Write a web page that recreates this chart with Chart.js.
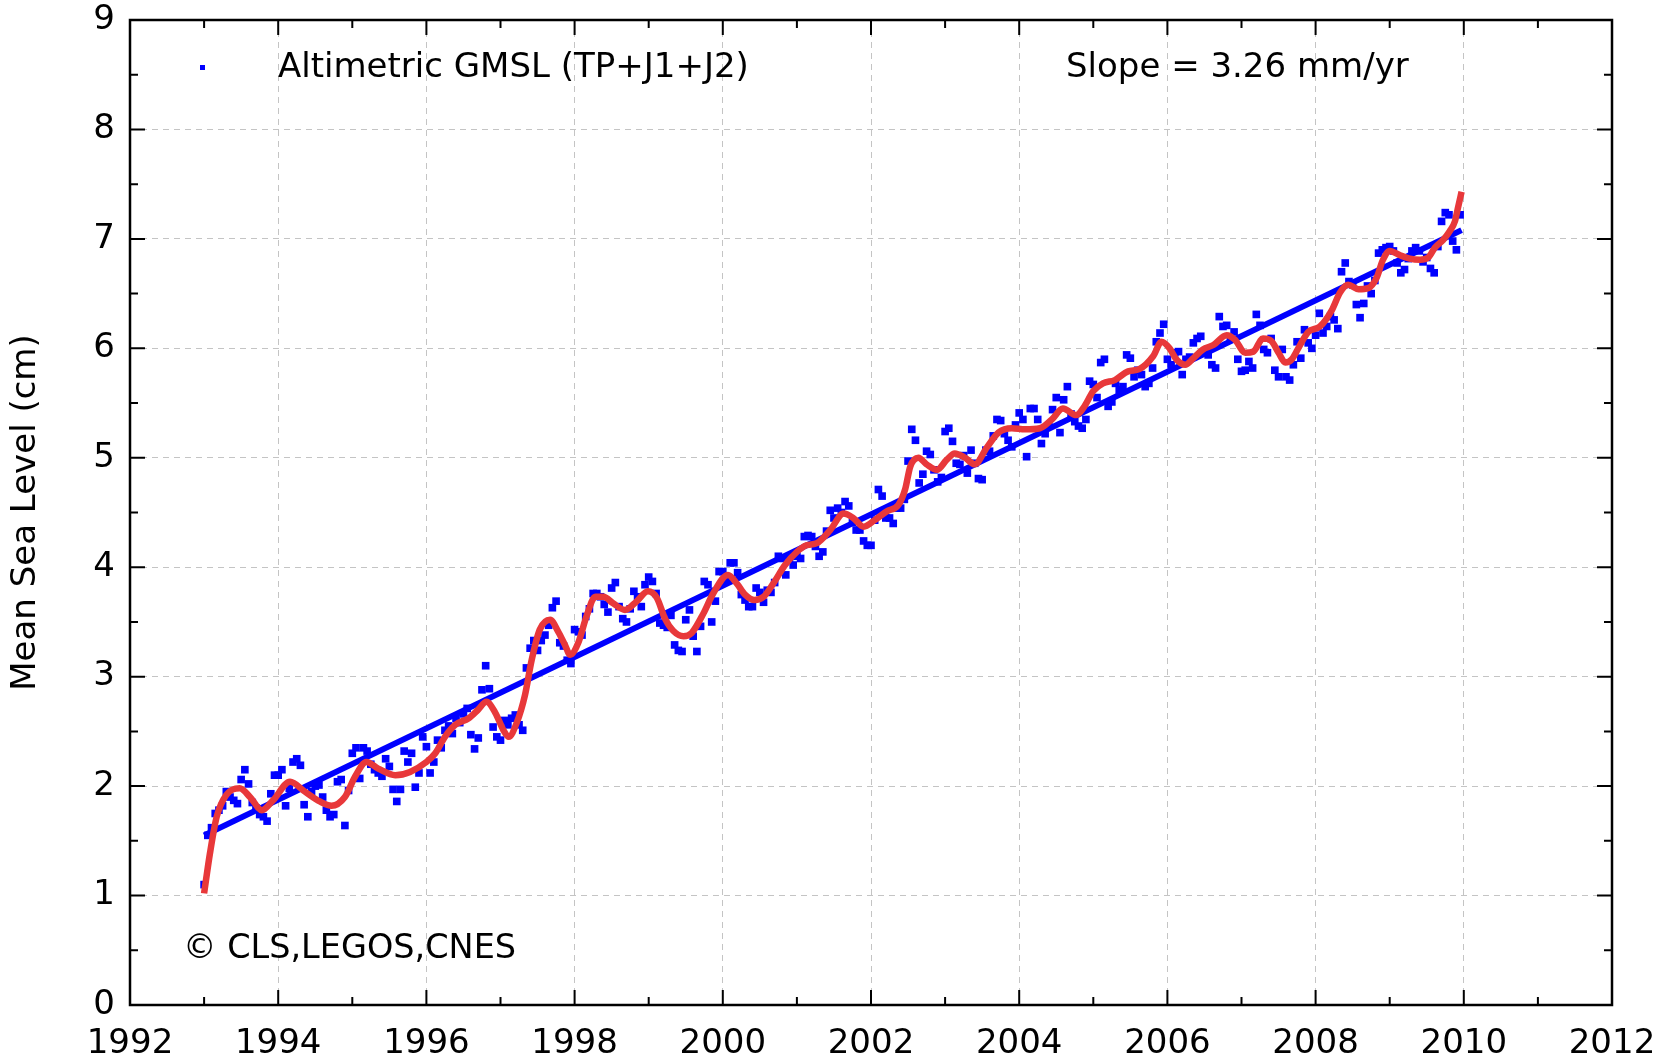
<!DOCTYPE html>
<html>
<head>
<meta charset="utf-8">
<script src="https://cdn.jsdelivr.net/npm/chart.js@4.4.1/dist/chart.umd.min.js"></script>
<style>
  html, body { margin: 0; padding: 0; background: #fff; }
  #wrap { width: 1666px; height: 1061px; }
</style>
</head>
<body>
<div id="wrap"><canvas id="gmslChart" width="1666" height="1061"></canvas></div>
<script>
// altimetric GMSL samples, one row per year, sample every 0.05 yr from 1993.0
const gmslStart = 1993;
const gmslStep = 0.05;
const gmslValues = [
  1.10, 1.55, 1.62, 1.75, 1.78, 1.82, 1.95, 1.90, 1.87, 1.84, 2.06, 2.15, 2.02, 1.85, 1.80, 1.74, 1.72, 1.68, 1.93, 2.10, // 1993
  2.10, 2.15, 1.82, 1.98, 2.22, 2.25, 2.19, 1.83, 1.72, 1.95, 2.00, 2.01, 1.90, 1.78, 1.72, 1.74, 2.04, 2.06, 1.64, 1.96, // 1994
  2.30, 2.35, 2.07, 2.35, 2.32, 2.20, 2.15, 2.12, 2.09, 2.25, 2.18, 1.97, 1.86, 1.97, 2.32, 2.22, 2.30, 1.99, 2.12, 2.45, // 1995
  2.36, 2.12, 2.22, 2.42, 2.35, 2.51, 2.55, 2.48, 2.62, 2.58, 2.66, 2.71, 2.47, 2.34, 2.44, 2.88, 3.10, 2.89, 2.54, 2.45, // 1996
  2.42, 2.60, 2.56, 2.62, 2.65, 2.56, 2.51, 3.08, 3.26, 3.33, 3.24, 3.33, 3.38, 3.47, 3.63, 3.69, 3.31, 3.28, 3.15, 3.12, // 1997
  3.43, 3.41, 3.38, 3.55, 3.62, 3.76, 3.76, 3.73, 3.66, 3.59, 3.81, 3.86, 3.64, 3.53, 3.50, 3.62, 3.78, 3.73, 3.64, 3.84, // 1998
  3.91, 3.87, 3.76, 3.49, 3.47, 3.45, 3.56, 3.29, 3.24, 3.23, 3.52, 3.61, 3.37, 3.23, 3.46, 3.87, 3.84, 3.50, 3.69, 3.96, // 1999
  3.96, 3.88, 4.04, 4.04, 3.95, 3.75, 3.70, 3.64, 3.64, 3.81, 3.77, 3.68, 3.79, 3.77, 3.86, 4.10, 4.08, 3.93, 4.07, 4.02, // 2000
  4.10, 4.08, 4.28, 4.29, 4.28, 4.19, 4.10, 4.14, 4.33, 4.52, 4.45, 4.54, 4.50, 4.60, 4.56, 4.41, 4.34, 4.34, 4.24, 4.20, // 2001
  4.20, 4.43, 4.71, 4.65, 4.45, 4.45, 4.40, 4.54, 4.54, 4.62, 4.97, 5.26, 5.16, 4.77, 4.85, 5.06, 5.03, 4.89, 4.78, 4.82, // 2002
  5.24, 5.27, 5.15, 4.95, 4.94, 5.02, 4.86, 5.07, 4.95, 4.81, 4.80, 5.07, 5.06, 5.20, 5.35, 5.34, 5.22, 5.16, 5.10, 5.30, // 2003
  5.41, 5.35, 5.01, 5.45, 5.45, 5.35, 5.13, 5.22, 5.30, 5.44, 5.55, 5.23, 5.53, 5.65, 5.40, 5.33, 5.29, 5.27, 5.35, 5.70, // 2004
  5.67, 5.55, 5.87, 5.90, 5.47, 5.51, 5.68, 5.62, 5.65, 5.94, 5.91, 5.74, 5.80, 5.76, 5.65, 5.68, 5.82, 6.06, 6.14, 6.22, // 2005
  5.90, 5.85, 5.96, 5.97, 5.76, 5.90, 5.92, 6.05, 6.09, 6.11, 5.97, 5.94, 5.85, 5.82, 6.29, 6.20, 6.21, 6.10, 6.15, 5.90, // 2006
  5.79, 5.80, 5.88, 5.82, 6.31, 6.21, 5.99, 5.96, 6.09, 5.80, 5.74, 5.99, 5.74, 5.71, 5.85, 6.06, 5.91, 6.17, 6.05, 6.00, // 2007
  6.12, 6.32, 6.14, 6.20, 6.29, 6.26, 6.18, 6.70, 6.78, 6.61, 6.58, 6.40, 6.28, 6.41, 6.57, 6.50, 6.62, 6.87, 6.90, 6.92, // 2008
  6.93, 6.89, 6.78, 6.69, 6.72, 6.82, 6.89, 6.92, 6.89, 6.79, 6.83, 6.73, 6.69, 6.93, 7.16, 7.24, 7.22, 6.98, 6.90, 7.22  // 2009
];

// smoothed curve (red)
const smoothYears = [
  1993.00, 1993.08, 1993.17, 1993.30, 1993.48, 1993.62, 1993.78, 1993.93, 1994.16, 1994.36,
  1994.56, 1994.72, 1994.90, 1995.04, 1995.19, 1995.35, 1995.58, 1995.78, 1996.00, 1996.12,
  1996.25, 1996.39, 1996.57, 1996.70, 1996.81, 1996.93, 1997.04, 1997.11, 1997.22, 1997.33,
  1997.42, 1997.53, 1997.67, 1997.78, 1997.87, 1997.94, 1998.05, 1998.16, 1998.28, 1998.39,
  1998.52, 1998.68, 1998.84, 1998.99, 1999.11, 1999.22, 1999.33, 1999.47, 1999.58, 1999.74,
  1999.87, 2000.07, 2000.19, 2000.30, 2000.43, 2000.55, 2000.68, 2000.84, 2001.00, 2001.13,
  2001.27, 2001.45, 2001.63, 2001.76, 2001.90, 2002.05, 2002.21, 2002.37, 2002.46, 2002.53,
  2002.64, 2002.75, 2002.89, 2003.02, 2003.13, 2003.27, 2003.40, 2003.56, 2003.72, 2003.90,
  2004.08, 2004.28, 2004.44, 2004.59, 2004.77, 2004.88, 2005.00, 2005.13, 2005.29, 2005.47,
  2005.62, 2005.81, 2005.92, 2006.03, 2006.12, 2006.24, 2006.35, 2006.48, 2006.62, 2006.80,
  2006.91, 2007.05, 2007.16, 2007.29, 2007.40, 2007.50, 2007.59, 2007.68, 2007.79, 2007.90,
  2008.06, 2008.22, 2008.33, 2008.44, 2008.58, 2008.71, 2008.82, 2008.91, 2009.00, 2009.14,
  2009.27, 2009.41, 2009.52, 2009.61, 2009.72, 2009.81, 2009.88, 2009.92, 2009.97
];
const smoothValues = [
  1.02, 1.39, 1.72, 1.92, 1.98, 1.90, 1.78, 1.87, 2.04, 1.95,
  1.86, 1.82, 1.90, 2.09, 2.22, 2.16, 2.10, 2.13, 2.22, 2.30,
  2.45, 2.56, 2.62, 2.70, 2.77, 2.67, 2.51, 2.45, 2.58, 2.83,
  3.15, 3.43, 3.52, 3.41, 3.29, 3.20, 3.31, 3.55, 3.73, 3.73,
  3.67, 3.61, 3.69, 3.78, 3.72, 3.53, 3.42, 3.37, 3.40, 3.58,
  3.76, 3.93, 3.85, 3.75, 3.70, 3.73, 3.85, 4.02, 4.14, 4.20,
  4.22, 4.34, 4.49, 4.45, 4.37, 4.43, 4.51, 4.57, 4.71, 4.92,
  5.00, 4.94, 4.89, 4.98, 5.04, 5.00, 4.94, 5.09, 5.23, 5.27,
  5.26, 5.27, 5.35, 5.45, 5.39, 5.47, 5.61, 5.68, 5.71, 5.79,
  5.81, 5.93, 6.06, 6.00, 5.90, 5.85, 5.91, 5.99, 6.03, 6.12,
  6.08, 5.96, 5.97, 6.09, 6.07, 5.96, 5.87, 5.90, 6.03, 6.15,
  6.20, 6.35, 6.51, 6.58, 6.54, 6.55, 6.64, 6.81, 6.89, 6.85,
  6.82, 6.81, 6.83, 6.92, 6.99, 7.07, 7.16, 7.28, 7.43
];

// linear trend (blue), slope 3.26 mm/yr
const trendYears = [1993.0, 2009.97];
const trendValues = [1.55, 7.08];

const xTicks = [1992, 1994, 1996, 1998, 2000, 2002, 2004, 2006, 2008, 2010, 2012];
const yTicks = [0, 1, 2, 3, 4, 5, 6, 7, 8, 9];

const legendLabel = 'Altimetric GMSL (TP+J1+J2)';
const slopeLabel = 'Slope = 3.26 mm/yr';
const creditLabel = '\u00A9 CLS,LEGOS,CNES';
const yTitle = 'Mean Sea Level (cm)';

const FONT = "'DejaVu Sans', 'Liberation Sans', sans-serif";

const gmslPoints = gmslValues.map((v, i) => ({ x: gmslStart + i * gmslStep, y: v }));
const smoothPoints = smoothYears.map((t, i) => ({ x: t, y: smoothValues[i] }));
const trendPoints = trendYears.map((t, i) => ({ x: t, y: trendValues[i] }));

// box frame with inward major/minor ticks + in-plot texts
const framePlugin = {
  id: 'frame',
  afterDraw(chart) {
    const { ctx, chartArea: a, scales: { x, y } } = chart;
    ctx.save();
    ctx.strokeStyle = '#000';
    ctx.lineWidth = 2.5;
    ctx.strokeRect(a.left, a.top, a.right - a.left, a.bottom - a.top);

    const major = 15, minor = 8;
    ctx.lineWidth = 2;
    ctx.beginPath();
    for (let t = x.min + 1; t < x.max; t++) {
      const px = x.getPixelForValue(t);
      const len = xTicks.includes(t) ? major : minor;
      ctx.moveTo(px, a.bottom); ctx.lineTo(px, a.bottom - len);
      ctx.moveTo(px, a.top); ctx.lineTo(px, a.top + len);
    }
    for (let v = y.min + 0.5; v < y.max; v += 0.5) {
      const py = y.getPixelForValue(v);
      const len = Number.isInteger(v) ? major : minor;
      ctx.moveTo(a.left, py); ctx.lineTo(a.left + len, py);
      ctx.moveTo(a.right, py); ctx.lineTo(a.right - len, py);
    }
    ctx.stroke();

    // legend marker + label
    ctx.fillStyle = '#0000ff';
    ctx.fillRect(a.left + 70, a.top + 45, 5, 5);
    ctx.fillStyle = '#000';
    ctx.font = '34px ' + FONT;
    ctx.textBaseline = 'middle';
    ctx.textAlign = 'left';
    ctx.fillText(legendLabel, a.left + 148, a.top + 48);
    ctx.fillText(slopeLabel, a.left + 936, a.top + 48);
    ctx.font = '33.5px ' + FONT;
    ctx.fillText(creditLabel, a.left + 53, a.top + 929);
    ctx.restore();
  }
};

const ctx = document.getElementById('gmslChart').getContext('2d');
new Chart(ctx, {
  type: 'scatter',
  data: {
    datasets: [
      {
        label: 'Smoothed',
        data: smoothPoints,
        showLine: true,
        borderColor: '#e8383a',
        borderWidth: 6.5,
        pointRadius: 0,
        cubicInterpolationMode: 'monotone',
        order: 0,
      },
      {
        label: 'Trend',
        data: trendPoints,
        showLine: true,
        borderColor: '#0000ff',
        borderWidth: 6,
        pointRadius: 0,
        order: 1,
      },
      {
        label: legendLabel,
        data: gmslPoints,
        pointStyle: 'rect',
        pointRadius: 5.4,
        backgroundColor: '#0000ff',
        borderWidth: 0,
        order: 2,
      },
    ],
  },
  options: {
    responsive: false,
    animation: false,
    devicePixelRatio: 1,
    layout: { padding: { top: 20, right: 54, left: 0, bottom: 0 } },
    plugins: {
      legend: { display: false },
      tooltip: { enabled: false },
    },
    scales: {
      x: {
        type: 'linear',
        min: 1992,
        max: 2012,
        afterFit: (scale) => {
          scale.height = 56;
          scale.paddingLeft = 0;
          scale.paddingRight = 0;
        },
        afterBuildTicks: (scale) => { scale.ticks = xTicks.map((v) => ({ value: v })); },
        ticks: {
          callback: (v) => String(v),
          color: '#000',
          padding: 19,
          maxRotation: 0,
          font: { family: FONT, size: 34 },
        },
        grid: { color: '#c4c4c4', lineWidth: 1, drawTicks: false },
        border: { display: false, dash: [6, 5] },
      },
      y: {
        min: 0,
        max: 9,
        afterFit: (scale) => {
          scale.width = 130;
          scale.paddingTop = 0;
          scale.paddingBottom = 0;
        },
        afterBuildTicks: (scale) => { scale.ticks = yTicks.map((v) => ({ value: v })); },
        ticks: {
          color: '#000',
          padding: 15,
          font: { family: FONT, size: 34 },
        },
        title: {
          display: true,
          text: yTitle,
          color: '#000',
          padding: { top: 6, bottom: 0 },
          font: { family: FONT, size: 34 },
        },
        grid: { color: '#c4c4c4', lineWidth: 1, drawTicks: false },
        border: { display: false, dash: [6, 5] },
      },
    },
  },
  plugins: [framePlugin],
});
</script>
</body>
</html>
